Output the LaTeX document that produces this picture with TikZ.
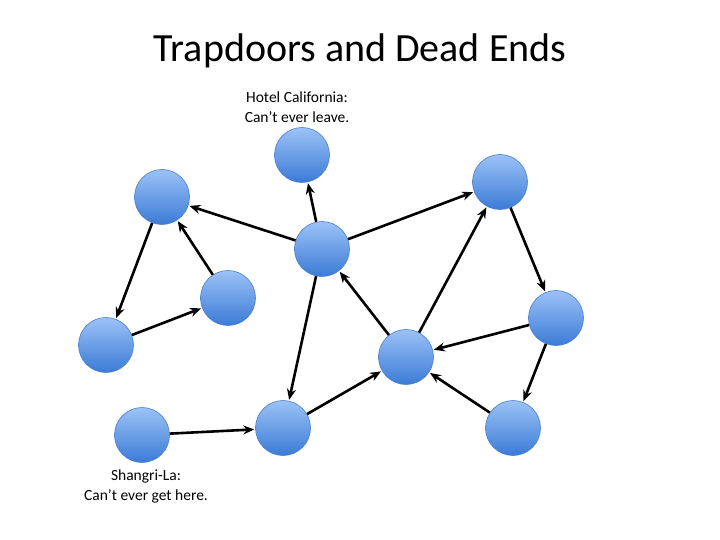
\documentclass[tikz,border=0pt]{standalone}
\usepackage{fontspec}
\setmainfont{Carlito}
\usetikzlibrary{arrows.meta}
\definecolor{ntop}{HTML}{9CC2F7}
\definecolor{nbot}{HTML}{3B7BD6}
\definecolor{nbord}{HTML}{4A7FC8}
\tikzset{
  vert/.style={circle,minimum size=55pt,inner sep=0pt,top color=ntop,bottom color=nbot,draw=nbord,line width=0.6pt},
  edge/.style={-{Stealth[length=11pt,width=9pt]},line width=2.6pt,black,shorten >=1pt},
  lab/.style={font=\fontsize{15.5}{20}\selectfont,align=center}
}
\begin{document}
\begin{tikzpicture}[x=1pt,y=-1pt]
\useasboundingbox (0,0) rectangle (720,540);
\node[font=\fontsize{40}{46}\selectfont] (title) at (360,51) {Trapdoors and Dead Ends};
\node[vert] (A) at (302,155) {};
\node[vert] (B) at (162,197) {};
\node[vert] (C) at (500,182) {};
\node[vert] (D) at (322,249) {};
\node[vert] (E) at (228,298) {};
\node[vert] (F) at (106,345) {};
\node[vert] (G) at (556,318) {};
\node[vert] (H) at (406,357) {};
\node[vert] (I) at (142,435) {};
\node[vert] (J) at (283,428) {};
\node[vert] (K) at (513,428) {};
\node[lab] (la) at (297,107) {Hotel California:\\Can’t ever leave.};
\node[lab] (li) at (146,486) {Shangri-La:\\Can’t ever get here.};
\draw[edge] (D) -- (A);
\draw[edge] (D) -- (B);
\draw[edge] (D) -- (C);
\draw[edge] (E) -- (B);
\draw[edge] (B) -- (F);
\draw[edge] (F) -- (E);
\draw[edge] (D) -- (J);
\draw[edge] (I) -- (J);
\draw[edge] (J) -- (H);
\draw[edge] (H) -- (D);
\draw[edge] (H) -- (C);
\draw[edge] (C) -- (G);
\draw[edge] (G) -- (H);
\draw[edge] (G) -- (K);
\draw[edge] (K) -- (H);
\end{tikzpicture}
\end{document}
